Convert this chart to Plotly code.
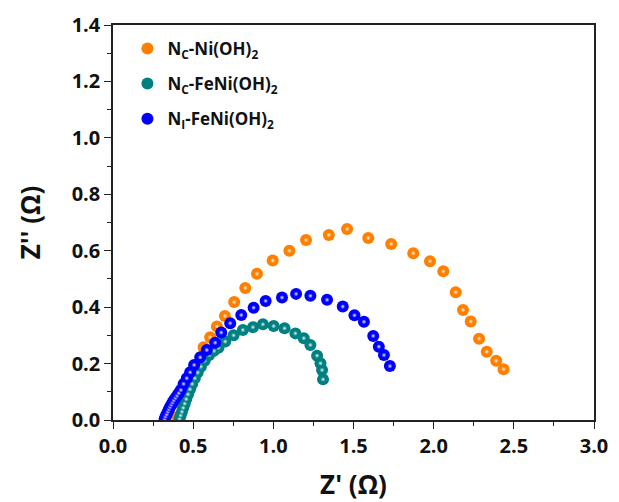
import plotly.graph_objects as go

# Nyquist data, Z' and Z'' in ohm
nc_ni_x = [0.40, 0.43, 0.46, 0.49, 0.52, 0.545, 0.565, 0.606, 0.648, 0.698, 0.756, 0.825,
           0.898, 0.996, 1.10, 1.204, 1.346, 1.46, 1.592, 1.735, 1.873, 1.977, 2.06, 2.1375,
           2.183, 2.231, 2.283, 2.331, 2.39, 2.436]
nc_ni_y = [0.01, 0.05, 0.09, 0.13, 0.17, 0.21, 0.258, 0.293, 0.331, 0.369, 0.418, 0.468,
           0.518, 0.565, 0.600, 0.638, 0.656, 0.677, 0.645, 0.624, 0.591, 0.563, 0.527, 0.453,
           0.390, 0.349, 0.288, 0.242, 0.210, 0.180]

nc_feni_x = [0.415, 0.422, 0.43, 0.438, 0.447, 0.457, 0.468, 0.48, 0.494, 0.51, 0.528, 0.548,
             0.572, 0.6, 0.63, 0.658, 0.70, 0.752, 0.81, 0.873, 0.935, 1.002, 1.07, 1.1375,
             1.19, 1.231, 1.273, 1.294, 1.304, 1.31]
nc_feni_y = [0.004, 0.016, 0.029, 0.043, 0.058, 0.074, 0.091, 0.109, 0.128, 0.148, 0.168, 0.189,
             0.21, 0.23, 0.245, 0.256, 0.278, 0.300, 0.319, 0.329, 0.339, 0.333, 0.325, 0.307,
             0.290, 0.266, 0.228, 0.201, 0.177, 0.144]

ni_feni_x = [0.322, 0.328, 0.335, 0.342, 0.349, 0.356, 0.364, 0.372, 0.38, 0.39, 0.40, 0.41,
             0.423, 0.44, 0.46, 0.481, 0.506, 0.544, 0.585, 0.6375, 0.675, 0.731, 0.80, 0.877,
             0.952, 1.054, 1.142, 1.231, 1.335, 1.433, 1.506, 1.565, 1.623, 1.658, 1.69, 1.727]
ni_feni_y = [0.004, 0.012, 0.02, 0.029, 0.038, 0.046, 0.054, 0.062, 0.07, 0.078, 0.086, 0.095,
             0.106, 0.128, 0.148, 0.169, 0.195, 0.222, 0.248, 0.274, 0.31, 0.343, 0.372, 0.398,
             0.422, 0.434, 0.447, 0.440, 0.426, 0.402, 0.371, 0.348, 0.298, 0.260, 0.230, 0.191]

series = [
    ("N<sub>C</sub>-Ni(OH)<sub>2</sub>", nc_ni_x, nc_ni_y, "#FF8000", "#FFF4EA"),
    ("N<sub>C</sub>-FeNi(OH)<sub>2</sub>", nc_feni_x, nc_feni_y, "#008080", "#E6F6F6"),
    ("N<sub>I</sub>-FeNi(OH)<sub>2</sub>", ni_feni_x, ni_feni_y, "#0000FF", "#ECECFF"),
]

FONT = "Open Sans"
INK = "#111111"

fig = go.Figure()
for name, xs, ys, col, glow in series:
    fig.add_trace(go.Scatter(
        x=xs, y=ys, mode="markers", name=name, legendgroup=name,
        marker=dict(size=12, color=col, line=dict(width=0)),
    ))
    # small specular highlight on each sphere
    fig.add_trace(go.Scatter(
        x=xs, y=ys, mode="markers", name=name, legendgroup=name, showlegend=False,
        hoverinfo="skip",
        marker=dict(size=5, color=col, line=dict(width=0),
                    gradient=dict(type="radial", color=glow)),
    ))

axis_common = dict(
    showline=True, linecolor="#222222", linewidth=1.5, mirror=True,
    ticks="outside", ticklen=7, tickwidth=1.3, tickcolor="#222222",
    showgrid=False, zeroline=False, automargin=False,
    tickfont=dict(family=FONT, size=20, color=INK, weight="bold"),
)

fig.update_xaxes(
    range=[0, 3.0], dtick=0.5, tick0=0, tickformat=".1f",
    minor=dict(dtick=0.25, ticks="outside", ticklen=4, tickwidth=1.2, tickcolor="#222222"),
    title=dict(text="Z' (Ω)", font=dict(family=FONT, size=26, color=INK, weight="bold"),
               standoff=22),
    **axis_common,
)
fig.update_yaxes(
    range=[0, 1.4], dtick=0.2, tick0=0, tickformat=".1f",
    minor=dict(dtick=0.1, ticks="outside", ticklen=4, tickwidth=1.2, tickcolor="#222222"),
    title=dict(text="Z'' (Ω)", font=dict(family=FONT, size=26, color=INK, weight="bold"),
               standoff=24),
    **axis_common,
)

fig.update_layout(
    width=619, height=502,
    margin=dict(l=113, r=25, t=25, b=82),
    plot_bgcolor="white", paper_bgcolor="white",
    showlegend=True,
    legend=dict(
        x=0.03, y=0.985, xanchor="left", yanchor="top",
        bgcolor="rgba(0,0,0,0)",
        font=dict(family=FONT, size=17, color=INK, weight="bold"),
        itemsizing="constant",
    ),
)

fig.write_html("out.html")
